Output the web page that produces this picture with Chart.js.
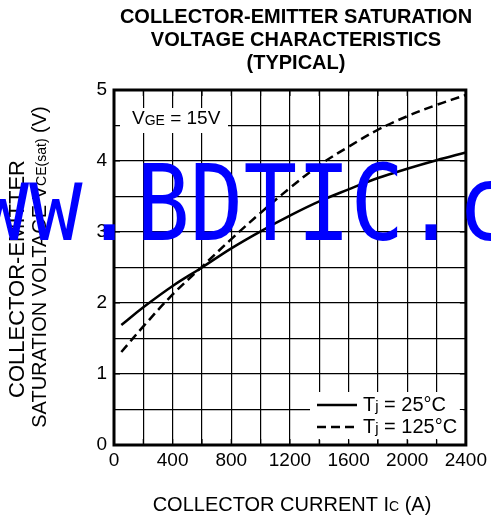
<!DOCTYPE html>
<html>
<head>
<meta charset="utf-8">
<script src="https://cdn.jsdelivr.net/npm/chart.js@4.4.1/dist/chart.umd.min.js"></script>
<style>
  html, body { margin: 0; padding: 0; background: #fff; }
  #wrap { width: 491px; height: 520px; }
</style>
</head>
<body>
<div id="wrap"><canvas id="chart"></canvas></div>
<script>
// collector current (A) and Vce(sat) (V)
const currentA = [50, 200, 400, 600, 800, 1000, 1200, 1400, 1600, 1800, 2000, 2200, 2400];
const vce25 = [1.69, 1.94, 2.24, 2.50, 2.77, 3.01, 3.23, 3.43, 3.60, 3.76, 3.89, 4.01, 4.12];
const vce125 = [1.31, 1.67, 2.12, 2.51, 2.90, 3.27, 3.62, 3.94, 4.20, 4.44, 4.63, 4.79, 4.93];
const xLabels = [0, 400, 800, 1200, 1600, 2000, 2400];
const yLabels = [0, 1, 2, 3, 4, 5];
const titleLines = ['COLLECTOR-EMITTER SATURATION', 'VOLTAGE CHARACTERISTICS', '(TYPICAL)'];

const FONT = '"Liberation Sans", Arial, sans-serif';

// draw text made of [text, size, dy] pieces, centred on cx
function drawParts(ctx, parts, cx, cy) {
  let total = 0;
  parts.forEach((p) => { ctx.font = p[1] + 'px ' + FONT; total += ctx.measureText(p[0]).width; });
  let x = cx - total / 2;
  parts.forEach((p) => {
    ctx.font = p[1] + 'px ' + FONT;
    ctx.fillText(p[0], x, cy + (p[2] || 0));
    x += ctx.measureText(p[0]).width;
  });
}

const overlay = {
  id: 'overlay',
  beforeDatasetsDraw(chart) {
    const { ctx, chartArea: a, scales: { x, y } } = chart;
    ctx.save();
    ctx.fillStyle = '#fff';
    ctx.fillRect(a.left + 6, a.top + 18, 108, 25);
    ctx.fillRect(a.left + 196, a.bottom - 53, 153, 48);
    // small inner ticks that show through the white boxes
    ctx.strokeStyle = '#000';
    ctx.lineWidth = 1.2;
    ctx.beginPath();
    for (let v = 0; v <= 2400; v += 200) {
      const px = x.getPixelForValue(v);
      ctx.moveTo(px, a.bottom); ctx.lineTo(px, a.bottom - 6);
      ctx.moveTo(px, a.top); ctx.lineTo(px, a.top + 6);
    }
    for (let v = 0; v <= 5; v += 0.5) {
      const py = y.getPixelForValue(v);
      ctx.moveTo(a.left, py); ctx.lineTo(a.left + 6, py);
      ctx.moveTo(a.right, py); ctx.lineTo(a.right - 6, py);
    }
    ctx.stroke();
    ctx.restore();
  },
  afterDatasetsDraw(chart) {
    const { ctx, chartArea: a } = chart;
    ctx.save();
    ctx.strokeStyle = '#000';
    ctx.lineWidth = 3;
    ctx.strokeRect(a.left, a.top, a.right - a.left, a.bottom - a.top);

    ctx.fillStyle = '#000';
    ctx.textBaseline = 'middle';
    ctx.textAlign = 'left';

    // VGE label
    ctx.font = '19px ' + FONT;
    let lx = a.left + 18;
    ctx.fillText('V', lx, a.top + 29);
    lx += ctx.measureText('V').width;
    ctx.font = '14px ' + FONT;
    ctx.fillText('GE', lx, a.top + 31);
    lx += ctx.measureText('GE').width;
    ctx.font = '19px ' + FONT;
    ctx.fillText(' = 15V', lx, a.top + 29);

    // legend
    const ly1 = a.bottom - 40, ly2 = a.bottom - 18;
    ctx.lineWidth = 2.5;
    ctx.beginPath();
    ctx.moveTo(a.left + 203, ly1); ctx.lineTo(a.left + 243, ly1);
    ctx.stroke();
    ctx.setLineDash([9, 5]);
    ctx.beginPath();
    ctx.moveTo(a.left + 203, ly2); ctx.lineTo(a.left + 245, ly2);
    ctx.stroke();
    ctx.setLineDash([]);
    [[ly1, ' = 25°C'], [ly2, ' = 125°C']].forEach(([ly, t]) => {
      let tx = a.left + 249;
      ctx.font = '20px ' + FONT;
      ctx.fillText('T', tx, ly);
      tx += ctx.measureText('T').width;
      ctx.font = '15px ' + FONT;
      ctx.fillText('j', tx, ly + 2);
      tx += ctx.measureText('j').width;
      ctx.font = '20px ' + FONT;
      ctx.fillText(t, tx, ly);
    });

    // title
    ctx.font = 'bold 20px ' + FONT;
    titleLines.forEach((t, i) => {
      const w = ctx.measureText(t).width;
      ctx.fillText(t, 296 - w / 2, 17 + i * 23);
    });

    // x axis title
    drawParts(ctx, [['COLLECTOR CURRENT I', 20], ['C', 14, 2], [' (A)', 20]], 292, 505);

    // y axis title
    ctx.save();
    ctx.translate(18, 279);
    ctx.rotate(-Math.PI / 2);
    drawParts(ctx, [['COLLECTOR-EMITTER', 22]], 0, 0);
    ctx.restore();
    ctx.save();
    ctx.translate(40, 267);
    ctx.rotate(-Math.PI / 2);
    drawParts(ctx, [['SATURATION VOLTAGE V', 20], ['CE(sat)', 14, 2], [' (V)', 20]], 0, 0);
    ctx.restore();
    ctx.restore();
  },
  afterDraw(chart) {
    // blue watermark, monospaced letters about 54px apart
    const { ctx } = chart;
    ctx.save();
    ctx.font = '106px "DejaVu Sans Mono", monospace';
    ctx.fillStyle = '#0000ff';
    ctx.textBaseline = 'alphabetic';
    const adv = ctx.measureText('B').width;
    const sx = 53.6 / adv;
    ctx.translate(163 - 4.5 * 53.6, 240);
    ctx.scale(sx, 1);
    ctx.fillText('www.BDTIC.com', 0, 0);
    ctx.restore();
  }
};

const tickFont = { family: FONT, size: 19 };

new Chart(document.getElementById('chart'), {
  type: 'line',
  data: {
    datasets: [
      {
        label: 'Tj = 25°C',
        data: currentA.map((c, i) => ({ x: c, y: vce25[i] })),
        borderColor: '#000',
        borderWidth: 2.5,
        pointRadius: 0,
        tension: 0.4,
        fill: false,
      },
      {
        label: 'Tj = 125°C',
        data: currentA.map((c, i) => ({ x: c, y: vce125[i] })),
        borderColor: '#000',
        borderWidth: 2.5,
        borderDash: [9, 5],
        pointRadius: 0,
        tension: 0.4,
        fill: false,
      },
    ],
  },
  options: {
    responsive: true,
    maintainAspectRatio: false,
    animation: false,
    layout: { padding: { top: 90, right: 21, left: 0, bottom: 0 } },
    plugins: { legend: { display: false }, title: { display: false }, tooltip: { enabled: false } },
    scales: {
      x: {
        type: 'linear',
        min: 0,
        max: 2400,
        afterFit: (s) => { s.height = 75; },
        border: { display: false },
        grid: { color: '#000', lineWidth: 1.2, drawTicks: false },
        ticks: {
          stepSize: 200,
          padding: 4,
          color: '#000',
          font: tickFont,
          maxRotation: 0,
          autoSkip: false,
          callback: (v) => (xLabels.includes(v) ? String(v) : ''),
        },
      },
      y: {
        min: 0,
        max: 5,
        afterFit: (s) => { s.width = 114; },
        border: { display: false },
        grid: { color: '#000', lineWidth: 1.2, drawTicks: false },
        ticks: {
          stepSize: 0.5,
          padding: 7,
          color: '#000',
          font: tickFont,
          autoSkip: false,
          callback: (v) => (yLabels.includes(v) ? String(v) : ''),
        },
      },
    },
  },
  plugins: [overlay],
});
</script>
</body>
</html>
